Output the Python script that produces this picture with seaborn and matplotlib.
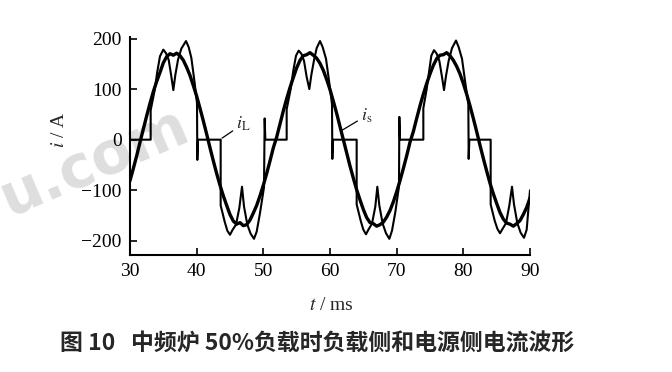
import numpy as np
import pandas as pd
import matplotlib.pyplot as plt
import seaborn as sns

# 电源侧电流 i_s (每 0.5 ms 读一个点, 30~90 ms)
t_s = np.arange(30, 90.01, 0.5)
i_s = [-81, -57, -32, -5,
       21, 47, 72, 95, 115, 133, 152, 164, 170, 167, 171, 166, 157, 143, 127, 107, 86, 62, 37, 11,
       -16, -42, -67, -90, -111, -130, -148, -161, -167, -164, -170, -168, -159, -145, -130, -111, -90, -67, -42, -16,
       5, 31, 57, 81, 103, 123, 142, 157, 166, 168, 172, 167, 161, 151, 137, 119, 99, 76, 52, 26,
       0, -26, -52, -76, -99, -119, -138, -154, -164, -166, -171, -168, -163, -153, -140, -123, -103, -81, -57, -32,
       -5, 16, 42, 67, 90, 111, 130, 147, 160, 167, 168, 172, 166, 157, 145, 130, 111, 90, 67, 42,
       16, -11, -37, -62, -86, -107, -126, -144, -157, -165, -167, -171, -166, -160, -148, -134, -115]

# 负载侧电流 i_L (折点)
t_L = [30.0, 33.1, 33.1, 33.7, 34.1, 34.5, 35.0, 35.4, 35.8, 36.2, 36.5, 36.8, 37.2, 37.7, 38.4, 38.8, 39.2, 39.7, 40.05, 40.1, 40.2,
       43.6, 43.6, 44.2, 44.6, 45.0, 45.4, 45.9, 46.4, 46.8, 47.1, 47.6, 48.1, 48.6, 49.0, 49.5, 50.1, 50.2, 50.3,
       53.5, 53.5, 54.1, 54.5, 54.9, 55.3, 55.7, 56.1, 56.5, 56.9, 57.2, 57.6, 58.0, 58.5, 58.9, 59.4, 59.9, 60.3, 60.35, 60.45,
       64.0, 64.0, 64.6, 65.0, 65.4, 65.8, 66.3, 66.8, 67.1, 67.4, 67.9, 68.4, 68.9, 69.3, 69.8, 70.35, 70.4, 70.5,
       74.0, 74.0, 74.5, 74.9, 75.2, 75.6, 76.0, 76.4, 76.8, 77.1, 77.4, 77.8, 78.3, 78.9, 79.3, 79.8, 80.3, 80.75, 80.8, 80.9,
       84.1, 84.1, 84.7, 85.1, 85.5, 85.9, 86.4, 86.9, 87.3, 87.6, 88.1, 88.6, 89.1, 89.5, 90.0]
i_L = [0, 0, 58, 98, 135, 165, 178, 171, 158, 125, 98, 128, 158, 180, 195, 183, 162, 112, 72, -40, 0,
       0, -130, -162, -180, -188, -178, -168, -135, -93, -132, -168, -186, -196, -182, -145, -94, 42, 0,
       0, 60, 100, 137, 166, 176, 170, 156, 124, 100, 128, 157, 181, 195, 183, 160, 112, 70, -38, 0,
       0, -128, -160, -178, -187, -177, -166, -132, -93, -130, -166, -185, -196, -180, -143, -92, 45, 0,
       0, 62, 100, 138, 166, 177, 170, 156, 124, 98, 126, 156, 181, 196, 183, 160, 112, 70, -38, 0,
       0, -128, -160, -176, -185, -176, -165, -130, -93, -128, -165, -184, -194, -178, -100]

df_s = pd.DataFrame({'t': t_s, 'i': i_s})
df_L = pd.DataFrame({'t': t_L, 'i': i_L})

sns.set_style('ticks')
plt.rcParams['font.family'] = ['Liberation Serif', 'DejaVu Sans']
plt.rcParams['mathtext.fontset'] = 'stix'

fig = plt.figure(figsize=(6.72, 3.72), dpi=100)
ax = fig.add_axes([130 / 672, 1 - 255 / 372, 400 / 672, 218 / 372])
ax.set_zorder(1)
ax.patch.set_alpha(0)

# 水印 (画在坐标轴下面)
fig.text(9 / 672, 1 - 216 / 372, 'u.com', fontsize=42, color='#dedede', rotation=23,
         rotation_mode='anchor', ha='left', va='baseline',
         family=['DejaVu Sans'], fontweight='bold', zorder=0)

sns.lineplot(data=df_s, x='t', y='i', estimator=None, sort=False, color='black', lw=2.4, ax=ax)
sns.lineplot(data=df_L, x='t', y='i', estimator=None, sort=False, color='black', lw=1.5, ax=ax)

ax.set_xlim(30, 90)
ax.set_ylim(-228, 203)
ax.set_xticks([30, 40, 50, 60, 70, 80, 90])
ax.set_yticks([-200, -100, 0, 100, 200])
ax.set_xlabel('')
ax.set_ylabel('')
ax.tick_params(direction='in', length=5, width=1.2, labelsize=14, colors='black', pad=6)
sns.despine(ax=ax)
for s in ['left', 'bottom']:
    ax.spines[s].set_linewidth(1.5)
    ax.spines[s].set_color('black')

ax.annotate(r'$i_{\rm L}$', xy=(43.8, 3), xytext=(45.9, 22), fontsize=13,
            arrowprops=dict(arrowstyle='-', lw=0.9, color='black', shrinkA=0, shrinkB=0))
ax.annotate(r'$i_{\rm s}$', xy=(61.6, 17), xytext=(64.6, 38), fontsize=13,
            arrowprops=dict(arrowstyle='-', lw=0.9, color='black', shrinkA=0, shrinkB=0))

fig.text(60 / 672, 1 - 130 / 372, r'$i$ / A', fontsize=14, rotation=90, ha='center', va='center')
fig.text(331 / 672, 1 - 305 / 372, r'$t$ / ms', fontsize=14, ha='center', va='center')
fig.text(317 / 672, 1 - 344 / 372, '图 10   中频炉 50%负载时负载侧和电源侧电流波形', fontsize=16.5,
         fontweight='bold', ha='center', va='center', family=['Noto Sans CJK SC', 'DejaVu Sans'])

fig.savefig('out.png', dpi=100)
